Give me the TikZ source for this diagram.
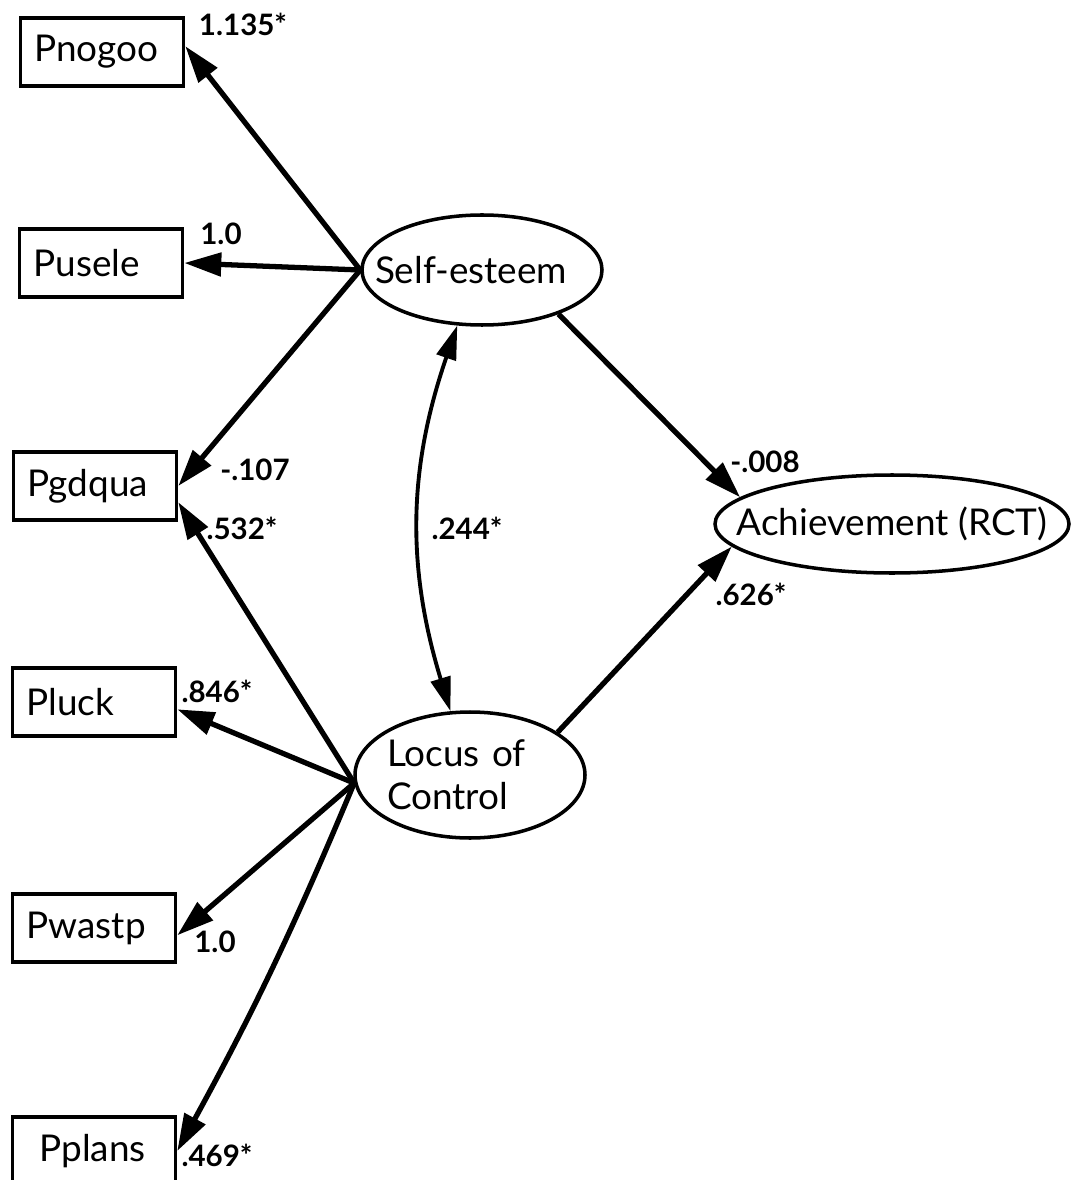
\documentclass[tikz,border=0pt]{standalone}
\usepackage{fontspec}
\setmainfont{Lato}
\usetikzlibrary{arrows.meta, shapes.geometric}

\begin{document}
\begin{tikzpicture}[x=0.1mm, y=0.1mm,
        % STYLES
        indicator/.style={rectangle, draw=black, line width=1pt, minimum width=16.3mm, minimum height=6.8mm, text width=13.5mm, inner xsep=1.4mm, align=left, font=\fontsize{10.5}{12.6}\selectfont},
        latent/.style={ellipse, draw=black, line width=1pt, inner xsep=-4mm, inner ysep=0pt, font=\fontsize{10.5}{12.2}\selectfont},
        coef/.style={inner sep=0pt, font=\fontsize{8.4}{9}\selectfont\bfseries},
        % ARROWS
        loading/.style={-{Triangle[length=3.7mm, width=2.3mm]}, line width=1.5pt},
        covary/.style={{Triangle[length=3.4mm, width=2mm]}-{Triangle[length=3.4mm, width=2mm]}, line width=1.1pt}
    ]
    \useasboundingbox (0,0) rectangle (1071,-1180);

    % ===================================
    % 1. Observed items
    % ===================================
    \node[indicator] (pn) at (102,-52) {Pnogoo};
    \node[indicator] (pu) at (101,-263) {Pusele};
    \node[indicator] (pg) at (95,-486) {Pgdqua};
    \node[indicator] (pl) at (94,-702) {Pluck};
    \node[indicator] (pw) at (94,-928) {Pwastp};
    \node[indicator] (pp) at (94,-1151) {\hspace*{1.3mm}Pplans};

    % --- Latent factors ---
    \node[latent, minimum width=24mm, minimum height=11mm, text width=21.4mm, align=left] (se) at (482,-270) {Self-esteem};
    \node[latent, minimum width=23mm, minimum height=12.6mm, text width=16.6mm, align=left] (lc) at (470,-775) {Locus of\\Control};
    \node[latent, minimum width=35.4mm, minimum height=9.8mm] (ach) at (892,-524) {Achievement (RCT)};

    % ===================================
    % 2. Loadings
    % ===================================
    \draw[loading] (se.west) -- (pn.4);
    \draw[loading] (se.west) -- (pu.east);
    \draw[loading] (se.west) -- (pg.east);
    \draw[loading] (lc.184) -- (pg.-11);
    \draw[loading] (lc.184) -- (pl.-5);
    \draw[loading] (lc.184) -- (pw.-5);
    \draw[loading] (lc.184) to[bend left=3] (pp.east);

    \node[coef] (l_pn) at (243,-24) {1.135*};
    \node[coef] (l_pu) at (221,-234) {1.0};
    \node[coef] (l_pg1) at (255,-470) {-.107};
    \node[coef] (l_pg2) at (242,-528) {.532*};
    \node[coef] (l_pl) at (217,-691) {.846*};
    \node[coef] (l_pw) at (215,-942) {1.0};
    \node[coef] (l_pp) at (217,-1155) {.469*};

    % ===================================
    % 3. Structural paths and covariance
    % ===================================
    \draw[loading] (se.-30) -- (ach.170);
    \draw[loading] (lc.26) -- (ach.188);
    \draw[covary] (se.-114) to[bend right=18] (lc.107);

    \node[coef] (l_cov) at (467,-528) {.244*};
    \node[coef] (l_se) at (765,-462) {-.008};
    \node[coef] (l_lc) at (751,-594) {.626*};

\end{tikzpicture}
\end{document}
